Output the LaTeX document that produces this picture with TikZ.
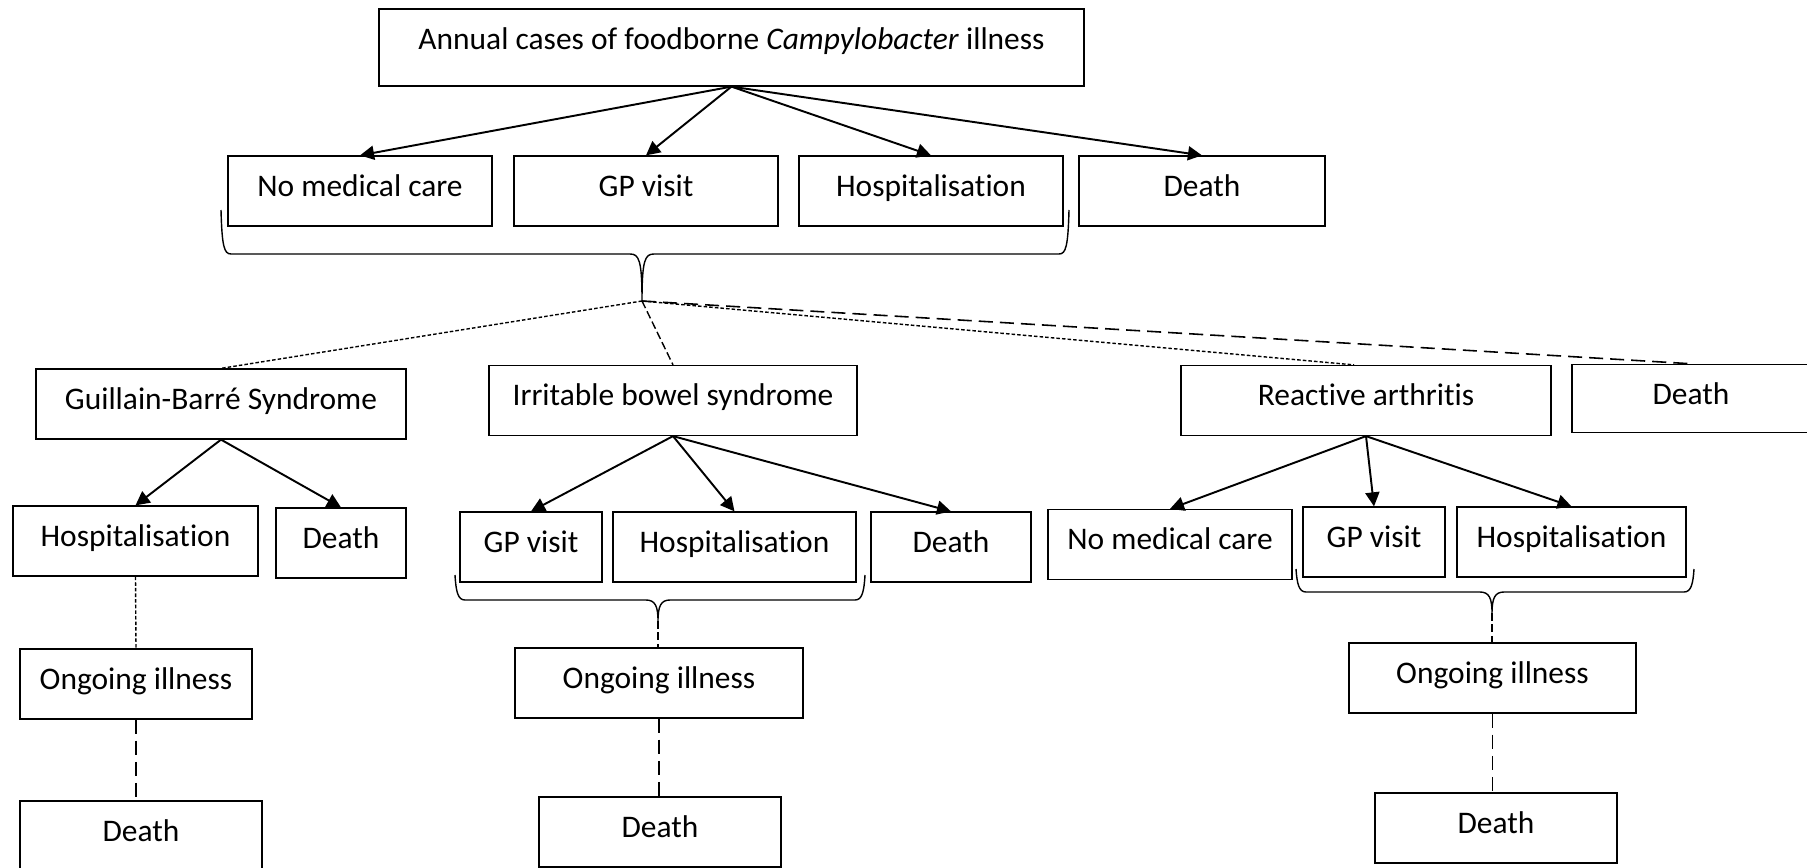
\documentclass[tikz,border=0pt]{standalone}
\usepackage{fontspec}
\setmainfont[Ligatures=NoCommon]{Carlito}
\usetikzlibrary{arrows.meta}

\tikzset{
  box/.style={draw, line width=0.75pt, inner sep=0pt, text height=22.8pt, text depth=17pt, minimum width=#1},
  arr/.style={line width=1.1pt, -{Triangle[length=8pt,width=8pt]}},
  dotline/.style={line width=0.8pt, dash pattern=on 2pt off 1.2pt},
  dashline/.style={line width=0.8pt, dash pattern=on 4.5pt off 2pt},
  longdashline/.style={line width=0.9pt, dash pattern=on 8pt off 4pt},
  brc/.style={line width=0.8pt},
}

\newcommand{\grpbrace}[6]{%
  \draw[brc] (#1,#3) .. controls (#1+1,#4-8) and (#1+3,#4) .. (#1+10,#4)
    -- (#5-12,#4) .. controls (#5-3,#4) and (#5,#4+6) .. (#5,#6)
    .. controls (#5,#4+6) and (#5+3,#4) .. (#5+12,#4)
    -- (#2-10,#4) .. controls (#2-3,#4) and (#2-1,#4-8) .. (#2,#3);
}

\begin{document}
\begin{tikzpicture}[x=0.02cm, y=-0.02cm, font=\fontsize{17.9pt}{21pt}\selectfont]
\useasboundingbox (0,0) rectangle (1807,868);

\node[box=14.1cm, text depth=21pt] (top) at (731.5,47.5) {Annual cases of foodborne \textit{Campylobacter} illness};

\node[box=5.28cm] (nmc) at (360,191) {No medical care};
\node[box=5.28cm] (gp) at (646,191) {GP visit};
\node[box=5.28cm] (hosp) at (931,191) {Hospitalisation};
\node[box=4.92cm] (death) at (1202,191) {Death};
\draw[arr] (top.south) -- (nmc.north);
\draw[arr] (top.south) -- (gp.north);
\draw[arr] (top.south) -- (hosp.north);
\draw[arr] (top.south) -- (death.north);

\grpbrace{221}{1069}{210}{254}{642}{301}
\coordinate (tipA) at (642,301);

\node[box=7.4cm] (gbs) at (221,404) {Guillain-Barré Syndrome};
\node[box=7.36cm] (ibs) at (673,400.5) {Irritable bowel syndrome};
\node[box=7.4cm] (ra) at (1366,400.5) {Reactive arthritis};
\node[box=4.76cm, text depth=16pt] (death2) at (1691,398.5) {Death};
\draw[dotline] (tipA) -- (gbs.north);
\draw[dashline] (tipA) -- (ibs.north);
\draw[dotline] (tipA) -- ([xshift=-0.24cm]ra.north);
\draw[longdashline] (tipA) -- (death2.north);

\node[box=4.9cm] (gHosp) at (135.5,541) {Hospitalisation};
\node[box=2.6cm] (gDeath) at (341,543) {Death};
\node[box=4.64cm] (gOng) at (136,684) {Ongoing illness};
\node[box=4.84cm] (gDeath2) at (141,836) {Death};
\draw[arr] (gbs.south) -- (gHosp.north);
\draw[arr] (gbs.south) -- (gDeath.north);
\draw[dotline] (gHosp.south) -- (gOng.north);
\draw[longdashline] (gOng.south) -- (gOng.south |- gDeath2.north);

\node[box=2.84cm] (iGp) at (531,547) {GP visit};
\node[box=4.86cm] (iHosp) at (734.5,547) {Hospitalisation};
\node[box=3.2cm] (iDeath) at (951,547) {Death};
\draw[arr] (ibs.south) -- (iGp.north);
\draw[arr] (ibs.south) -- (iHosp.north);
\draw[arr] (ibs.south) -- (iDeath.north);
\grpbrace{455}{865}{575}{600}{658}{621}
\coordinate (tipB) at (658,621);
\node[box=5.76cm] (iOng) at (659,683) {Ongoing illness};
\node[box=4.84cm] (iDeath2) at (660,832) {Death};
\draw[dashline] (tipB) -- (tipB |- iOng.north);
\draw[longdashline] (iOng.south) -- (iOng.south |- iDeath2.north);

\node[box=4.88cm] (rNmc) at (1170,544.5) {No medical care};
\node[box=2.84cm] (rGp) at (1374,542) {GP visit};
\node[box=4.58cm] (rHosp) at (1571.5,542) {Hospitalisation};
\draw[arr] (ra.south) -- (rNmc.north);
\draw[arr] (ra.south) -- (rGp.north);
\draw[arr] (ra.south) -- (rHosp.north);
\grpbrace{1296}{1694}{569}{592}{1492}{613}
\coordinate (tipC) at (1492,613);
\node[box=5.74cm] (rOng) at (1492.5,678) {Ongoing illness};
\node[box=4.84cm] (rDeath2) at (1496,828) {Death};
\draw[dashline] (tipC) -- (tipC |- rOng.north);
\draw[longdashline] (rOng.south) -- (rOng.south |- rDeath2.north);

\end{tikzpicture}
\end{document}
